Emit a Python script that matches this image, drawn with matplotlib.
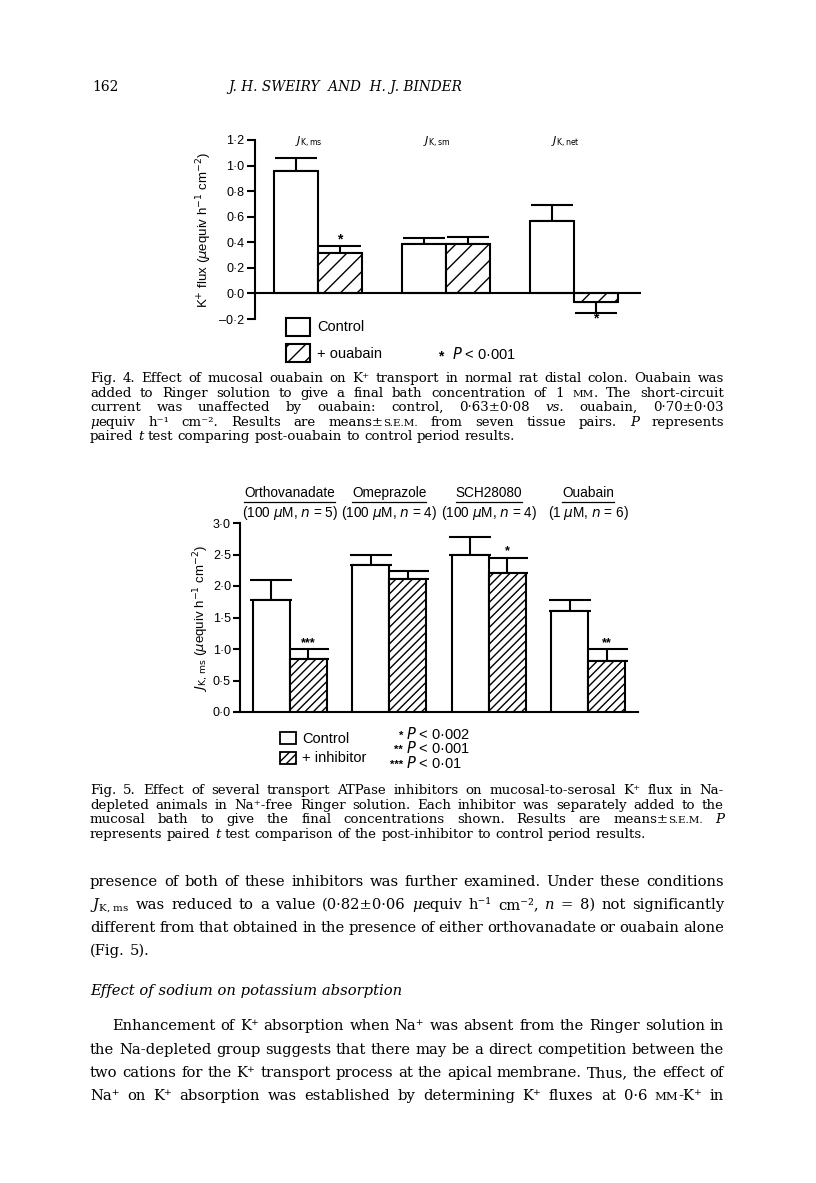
import re
import matplotlib
matplotlib.use("Agg")
import matplotlib.pyplot as plt
from matplotlib.patches import Rectangle

W, H = 816, 1183
SERIF = ["DejaVu Serif", "DejaVu Sans"]
SANS = ["Liberation Sans", "DejaVu Sans"]

# Fig. 4 data (K+ flux, uequiv h-1 cm-2)
fig4_groups = [r"$J_{\rm K,ms}$", r"$J_{\rm K,sm}$", r"$J_{\rm K,net}$"]
fig4_control = [0.96, 0.39, 0.57]
fig4_control_sem = [0.10, 0.04, 0.12]
fig4_ouabain = [0.32, 0.39, -0.07]
fig4_ouabain_sem = [0.05, 0.05, 0.08]
fig4_stars = ["*", "", "*"]
fig4_yticks = [-0.2, 0.0, 0.2, 0.4, 0.6, 0.8, 1.0, 1.2]

# Fig. 5 data (J K,ms)
fig5_inhibitors = ["Orthovanadate", "Omeprazole", "SCH28080", "Ouabain"]
fig5_conditions = [r"(100 $\mu$M, $n$ = 5)", r"(100 $\mu$M, $n$ = 4)",
                   r"(100 $\mu$M, $n$ = 4)", r"(1 $\mu$M, $n$ = 6)"]
fig5_control = [1.78, 2.33, 2.50, 1.61]
fig5_control_sem = [0.31, 0.16, 0.28, 0.17]
fig5_inhibitor = [0.84, 2.11, 2.21, 0.81]
fig5_inhibitor_sem = [0.16, 0.13, 0.24, 0.19]
fig5_stars = ["***", "", "*", "**"]
fig5_yticks = [0.0, 0.5, 1.0, 1.5, 2.0, 2.5, 3.0]

caption4 = [
    "Fig. 4. Effect of mucosal ouabain on K⁺ transport in normal rat distal colon. Ouabain was",
    "added to Ringer solution to give a final bath concentration of 1 ~mm~. The short-circuit",
    "current was unaffected by ouabain: control, 0·63±0·08 _vs._ ouabain, 0·70±0·03",
    "_μ_equiv h⁻¹ cm⁻². Results are means±~s.e.m.~ from seven tissue pairs. _P_ represents",
    "paired _t_ test comparing post-ouabain to control period results.",
]
caption5 = [
    "Fig. 5. Effect of several transport ATPase inhibitors on mucosal-to-serosal K⁺ flux in Na-",
    "depleted animals in Na⁺-free Ringer solution. Each inhibitor was separately added to the",
    "mucosal bath to give the final concentrations shown. Results are means±~s.e.m.~ _P_",
    "represents paired _t_ test comparison of the post-inhibitor to control period results.",
]
para1 = [
    "presence of both of these inhibitors was further examined. Under these conditions",
    r"$J_{\mathrm{K,\,ms}}$ was reduced to a value (0·82±0·06 _μ_equiv h⁻¹ cm⁻², _n_ = 8) not significantly",
    "different from that obtained in the presence of either orthovanadate or ouabain alone",
    "(Fig. 5).",
]
heading = "Effect of sodium on potassium absorption"
para2 = [
    "Enhancement of K⁺ absorption when Na⁺ was absent from the Ringer solution in",
    "the Na-depleted group suggests that there may be a direct competition between the",
    "two cations for the K⁺ transport process at the apical membrane. Thus, the effect of",
    "Na⁺ on K⁺ absorption was established by determining K⁺ fluxes at 0·6 ~mm~-K⁺ in",
]


def fmt(v):
    return f"{v:.1f}".replace("-", "–").replace(".", "·")


def px_axes(fig, x0, y0, x1, y1):
    return fig.add_axes([x0 / W, 1 - y1 / H, (x1 - x0) / W, (y1 - y0) / H])


fig = plt.figure(figsize=(W / 100, H / 100), dpi=100)
plt.rcParams["font.family"] = SANS
plt.rcParams["hatch.linewidth"] = 1.0
renderer = fig.canvas.get_renderer()

page = fig.add_axes([0, 0, 1, 1])
page.set_xlim(0, W)
page.set_ylim(H, 0)
page.axis("off")


def draw_line(line, y, x0=90, x1=724, size=8.2, justify=True):
    words = []
    for w in line.split(" "):
        segs = [w] if w.startswith("$") else [s for s in re.split(r"(_[^_]+_|~[^~]+~)", w) if s]
        arts = []
        for s in segs:
            kw = dict(fontsize=size, family=SERIF, math_fontfamily="dejavuserif",
                      va="baseline", ha="left")
            if len(s) > 2 and s[0] == "_" and s[-1] == "_":
                s = s[1:-1]
                kw["style"] = "italic"
            elif len(s) > 2 and s[0] == "~" and s[-1] == "~":
                s = s[1:-1].upper()
                kw["fontsize"] = size * 0.78
            arts.append(page.text(0, y, s, **kw))
        words.append(arts)
    widths = [[a.get_window_extent(renderer).width for a in arts] for arts in words]
    total = sum(sum(ws) for ws in widths)
    gap = size * 1.389 * 0.33
    if justify and len(words) > 1:
        gap = (x1 - x0 - total) / (len(words) - 1)
    x = x0
    for arts, ws in zip(words, widths):
        for a, wd in zip(arts, ws):
            a.set_x(x)
            x += wd
        x += gap


def draw_block(lines, baselines, size, x0=90, indent=0, justify_last=False):
    for i, (line, y) in enumerate(zip(lines, baselines)):
        last = i == len(lines) - 1
        draw_line(line, y, x0=x0 + (indent if i == 0 else 0), size=size,
                  justify=justify_last or not last)


# running head
page.text(92, 91, "162", fontsize=10, family=SERIF, va="baseline")
page.text(228, 91, "J. H. SWEIRY  AND  H. J. BINDER", fontsize=9.8, family=SERIF,
          style="italic", va="baseline")

# ---------------- Fig. 4 ----------------
ax4 = px_axes(fig, 255, 140, 641, 319)
ax4.set_facecolor("none")
u4 = 128.0
bw4 = 44 / u4
x4 = list(range(len(fig4_groups)))
ax4.set_xlim(-(318 - 255) / u4, (641 - 318) / u4)
ax4.set_ylim(-0.2, 1.2)
ax4.bar([x - bw4 / 2 for x in x4], fig4_control, bw4, color="white", edgecolor="black",
        linewidth=1.5, zorder=3)
ax4.bar([x + bw4 / 2 for x in x4], fig4_ouabain, bw4, color="white", edgecolor="black",
        linewidth=1.5, hatch="//", zorder=3)
for xs, vals, sems in [([x - bw4 / 2 for x in x4], fig4_control, fig4_control_sem),
                       ([x + bw4 / 2 for x in x4], fig4_ouabain, fig4_ouabain_sem)]:
    lo = [s if v < 0 else 0 for v, s in zip(vals, sems)]
    hi = [s if v >= 0 else 0 for v, s in zip(vals, sems)]
    ax4.errorbar(xs, vals, yerr=[lo, hi], fmt="none", ecolor="black", elinewidth=1.5,
                 capsize=15, capthick=1.5, zorder=2)
for x, v, s, star in zip(x4, fig4_ouabain, fig4_ouabain_sem, fig4_stars):
    if star:
        yy = v + s + 0.05 if v >= 0 else v - s - 0.045
        ax4.text(x + bw4 / 2, yy, star, ha="center", va="center", fontsize=10,
                 fontweight="bold")
for x, lab in zip(x4, fig4_groups):
    ax4.text(x - 0.07, 1.18, lab, ha="center", va="center", fontsize=8,
             math_fontfamily="dejavusans", clip_on=False)
ax4.axhline(0, color="black", lw=1.5, zorder=4)
for sp in ["top", "right", "bottom"]:
    ax4.spines[sp].set_visible(False)
ax4.spines["left"].set_linewidth(1.5)
ax4.set_xticks([])
ax4.set_yticks(fig4_yticks)
ax4.set_yticklabels([fmt(v) for v in fig4_yticks])
ax4.tick_params(axis="y", direction="out", length=6, width=1.5, pad=1.5, labelsize=9)
page.text(204, 230, r"K$^{+}$ flux ($\mu$equiv h$^{-1}$ cm$^{-2}$)", rotation=90,
          ha="center", va="center", fontsize=9.5, math_fontfamily="dejavusans")

# Fig. 4 legend
page.add_patch(Rectangle((286, 318), 24, 18, facecolor="white", edgecolor="black", lw=1.5))
page.add_patch(Rectangle((286, 344), 24, 18, facecolor="white", edgecolor="black", lw=1.5,
                         hatch="//"))
page.text(317, 327, "Control", fontsize=10.5, va="center")
page.text(317, 354, "+ ouabain", fontsize=10.5, va="center")
page.text(441, 356, "*", fontsize=10, va="center", ha="center", fontweight="bold")
page.text(452, 354, r"$P$ < 0·001", fontsize=10.5, va="center", math_fontfamily="dejavusans")

draw_block(caption4, [382, 396.5, 411, 425.5, 440], 9.6)

# ---------------- Fig. 5 ----------------
ax5 = px_axes(fig, 240, 523, 638, 712)
ax5.set_facecolor("none")
u5 = (638 - 240) / 4
bw5 = 37 / u5
x5 = list(range(len(fig5_inhibitors)))
ax5.set_xlim(-0.5, 3.5)
ax5.set_ylim(0, 3.0)
ax5.bar([x - bw5 / 2 for x in x5], fig5_control, bw5, color="white", edgecolor="black",
        linewidth=1.5, zorder=3)
ax5.bar([x + bw5 / 2 for x in x5], fig5_inhibitor, bw5, color="white", edgecolor="black",
        linewidth=1.5, hatch="////", zorder=3)
for xs, vals, sems in [([x - bw5 / 2 for x in x5], fig5_control, fig5_control_sem),
                       ([x + bw5 / 2 for x in x5], fig5_inhibitor, fig5_inhibitor_sem)]:
    ax5.errorbar(xs, vals, yerr=[[0] * len(vals), sems], fmt="none", ecolor="black",
                 elinewidth=1.5, capsize=15, capthick=1.5, zorder=2)
for x, v, s, star in zip(x5, fig5_inhibitor, fig5_inhibitor_sem, fig5_stars):
    if star:
        ax5.text(x + bw5 / 2, v + s + 0.1, star, ha="center", va="center", fontsize=9,
                 fontweight="bold")
name_texts = []
for x, name, cond in zip(x5, fig5_inhibitors, fig5_conditions):
    name_texts.append(ax5.text(x, 3.48, name, ha="center", va="center", fontsize=9.8,
                               clip_on=False))
    ax5.text(x, 3.16, cond, ha="center", va="center", fontsize=9.8,
             math_fontfamily="dejavusans", clip_on=False)
for sp in ["top", "right"]:
    ax5.spines[sp].set_visible(False)
ax5.spines["left"].set_linewidth(1.5)
ax5.spines["bottom"].set_linewidth(1.5)
ax5.set_xticks([])
ax5.set_yticks(fig5_yticks)
ax5.set_yticklabels([fmt(v) for v in fig5_yticks])
ax5.tick_params(axis="y", direction="out", length=5, width=1.5, pad=1.5, labelsize=9)
page.text(201, 618, r"$J_{\rm K,\,ms}$ ($\mu$equiv h$^{-1}$ cm$^{-2}$)", rotation=90,
          ha="center", va="center", fontsize=9.5, math_fontfamily="dejavusans")

# underline the inhibitor names
inv = page.transData.inverted()
for t in name_texts:
    bb = t.get_window_extent(renderer)
    (ax0, ay0), (ax1, ay1) = inv.transform([(bb.x0, bb.y0), (bb.x1, bb.y1)])
    page.plot([ax0, ax1], [ay0 + 2, ay0 + 2], color="black", lw=0.9)

# Fig. 5 legend
page.add_patch(Rectangle((280, 732), 16, 12, facecolor="white", edgecolor="black", lw=1.3))
page.add_patch(Rectangle((280, 752), 16, 12, facecolor="white", edgecolor="black", lw=1.3,
                         hatch="////"))
page.text(302, 739, "Control", fontsize=10.5, va="center")
page.text(302, 758, "+ inhibitor", fontsize=10.5, va="center")
for stars, p, yy in [("*", "0·002", 734), ("**", "0·001", 748), ("***", "0·01", 763)]:
    page.text(403, yy + 2, stars, fontsize=8, va="center", ha="right", fontweight="bold")
    page.text(406, yy, rf"$P$ < {p}", fontsize=10.5, va="center", math_fontfamily="dejavusans")

draw_block(caption5, [794, 808.5, 823, 838], 9.6)

# body text
draw_block(para1, [886, 909, 932, 955], 10.6)
page.text(90, 995, heading, fontsize=10.6, family=SERIF, style="italic", va="baseline")
# last line of the page runs on, so it is justified too
draw_block(para2, [1030, 1054, 1077, 1100], 10.6, indent=22, justify_last=True)

fig.savefig("out.png", dpi=100)
